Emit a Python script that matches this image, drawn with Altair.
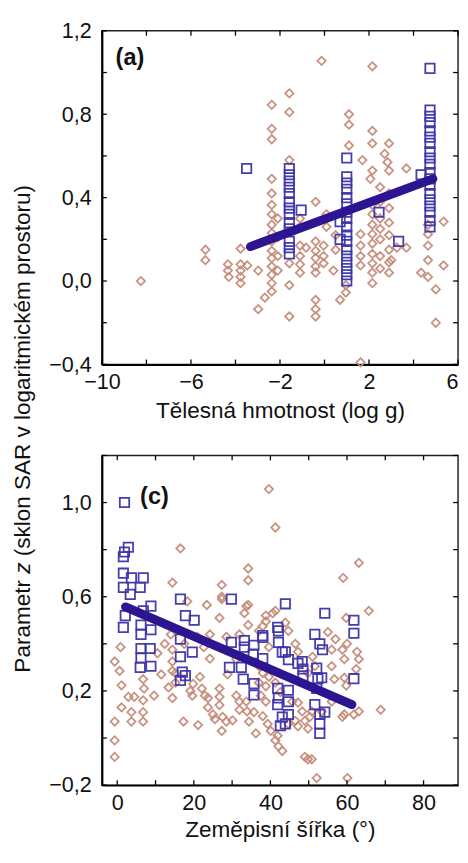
import altair as alt
import pandas as pd

# ---------------- Panel (a): body mass ----------------
a_diamonds = [
    (-8.25, 0.00), (-5.35, 0.15), (-5.35, 0.10), (-4.34, 0.08), (-4.34, 0.05), (-4.3, 0.02),
    (-3.77, 0.155), (-3.77, 0.08), (-3.77, 0.05), (-3.77, 0.02), (-3.77, -0.01), (-3.47, 0.075),
    (-2.98, 0.05), (-2.98, -0.135), (-2.68, -0.08),
    (-2.37, 0.845), (-2.37, 0.73), (-2.37, 0.68), (-2.37, 0.49), (-2.37, 0.42), (-2.37, 0.365),
    (-2.37, 0.32), (-2.37, 0.27), (-2.37, 0.23), (-2.37, 0.19), (-2.37, 0.145), (-2.37, 0.11),
    (-2.37, 0.07), (-2.37, 0.03), (-2.37, -0.01), (-2.37, -0.05),
    (-2.1, 0.30), (-2.1, 0.21), (-2.1, 0.12), (-2.1, 0.05),
    (-1.58, 0.90), (-1.58, 0.81), (-1.58, 0.58), (-1.58, 0.085), (-1.58, -0.02), (-1.58, -0.17),
    (-1.1, 0.30), (-1.1, 0.26), (-1.1, 0.17), (-1.1, 0.12), (-1.1, 0.08), (-1.1, 0.04), (-0.83, 0.16),
    (-0.4, 0.38), (-0.4, 0.19), (-0.4, 0.145), (-0.4, 0.11), (-0.4, 0.07), (-0.4, 0.04),
    (-0.4, -0.09), (-0.4, -0.135), (-0.4, -0.17), (-0.13, 1.056),
    (-0.04, 0.17), (-0.04, 0.12), (-0.04, 0.085), (0.09, 0.32), (0.09, 0.26),
    (0.5, 0.22), (0.5, 0.15), (0.4, 0.05), (0.7, -0.09), (0.96, -0.055), (0.96, -0.02),
    (1.1, 0.80), (1.1, 0.75), (1.1, 0.65),
    (1.62, -0.39), (1.62, 0.225), (1.62, 0.17), (1.62, 0.12), (1.62, 0.075), (1.7, 0.58),
    (2.15, 1.03), (2.15, 0.72), (2.15, 0.66), (2.15, 0.53), (2.06, 0.49), (2.15, 0.365),
    (2.15, 0.32), (2.15, 0.27), (2.15, 0.225), (2.15, 0.18), (2.15, 0.13), (2.15, 0.085),
    (2.15, 0.04), (2.15, -0.01),
    (2.5, 0.45), (2.5, 0.38), (2.5, 0.30), (2.5, 0.25), (2.5, 0.20), (2.5, 0.12), (2.5, 0.06),
    (2.7, 0.61), (2.83, 0.57), (2.9, 0.53), (2.9, 0.66), (2.9, 0.42), (2.9, 0.35), (2.9, 0.28),
    (2.9, 0.22), (2.9, 0.15), (2.9, 0.09), (2.9, 0.04),
    (3.25, 0.16), (3.0, 0.10), (3.68, 0.54), (3.68, 0.16), (4.34, 0.04),
    (4.65, 0.27), (4.65, 0.225), (4.65, 0.17), (4.65, 0.10), (4.65, 0.02),
    (5.0, -0.04), (5.0, -0.20), (5.35, 0.285), (5.35, 0.075),
]
a_squares = [
    (-3.5, 0.54),
    (-1.58, 0.54), (-1.58, 0.51), (-1.58, 0.48), (-1.58, 0.45), (-1.58, 0.42), (-1.58, 0.38),
    (-1.58, 0.35), (-1.58, 0.32), (-1.58, 0.28), (-1.58, 0.25), (-1.58, 0.19), (-1.58, 0.16),
    (-1.58, 0.13), (-1.05, 0.34),
    (1.0, 0.59), (1.0, 0.50), (1.0, 0.47), (1.0, 0.44), (1.0, 0.40), (1.0, 0.37), (1.0, 0.33),
    (1.0, 0.30), (1.0, 0.26), (1.0, 0.22), (1.0, 0.19), (1.0, 0.15), (1.0, 0.12), (1.0, 0.09),
    (1.0, 0.06), (1.0, 0.03), (1.0, 0.0),
    (0.7, 0.285), (0.7, 0.20), (2.45, 0.33), (3.33, 0.19), (4.34, 0.51), (4.74, 1.02),
    (4.74, 0.82), (4.74, 0.79), (4.74, 0.76), (4.74, 0.72), (4.74, 0.69), (4.74, 0.66),
    (4.74, 0.62), (4.74, 0.59), (4.74, 0.56), (4.74, 0.52), (4.74, 0.49), (4.74, 0.46),
    (4.74, 0.42), (4.74, 0.39), (4.74, 0.36), (4.74, 0.33), (4.74, 0.29), (4.74, 0.26),
]
a_fit_x = [-3.33, 4.87]
a_fit_y = [0.165, 0.49]
a_xticks = [-10, -8, -6, -4, -2, 0, 2, 4, 6]
a_yticks = [-0.4, -0.2, 0.0, 0.2, 0.4, 0.6, 0.8, 1.0, 1.2]
a_xlabels = [-10, -6, -2, 2, 6]
a_ylabels = [-0.4, 0.0, 0.4, 0.8, 1.2]

# ---------------- Panel (c): latitude ----------------
c_diamonds = [
    (39.6, 1.057), (41.3, 0.894), (16.5, 0.805), (63.1, 0.744), (59.0, 0.68), (14.4, 0.66),
    (34.2, 0.72), (34.2, 0.67), (27.3, 0.65), (23.4, 0.565), (27.3, 0.59), (34.2, 0.565),
    (33.2, 0.53), (18.3, 0.58), (26.7, 0.51), (38.8, 0.52), (40.6, 0.53), (41.3, 0.54),
    (65.7, 0.54), (59.8, 0.51), (34.2, 0.48), (38.0, 0.475), (44.7, 0.455), (38.8, 0.495),
    (43.9, 0.49), (33.7, 0.56), (27.3, 0.6),
    (0.87, 0.386), (-0.67, 0.325), (0.61, 0.285), (1.12, 0.224), (2.9, 0.175), (1.12, 0.13),
    (-0.67, 0.07), (-0.67, -0.01), (-0.67, -0.08), (4.45, 0.175), (3.7, 0.11), (3.7, 0.07),
    (6.76, 0.25), (7.0, 0.21), (6.76, 0.16), (6.76, 0.11), (6.76, 0.07), (9.6, 0.18),
    (14.4, 0.375), (14.4, 0.325), (14.4, 0.285), (13.4, 0.215), (14.4, 0.17), (15.2, 0.276),
    (15.2, 0.235), (17.3, 0.07), (19.1, 0.2), (19.6, 0.18), (19.8, 0.23), (21.6, 0.26),
    (21.1, 0.055), (22.1, 0.21), (22.9, 0.18), (23.7, 0.17), (23.7, 0.13), (25.0, 0.10),
    (25.5, 0.08), (26.7, 0.21), (26.7, 0.175), (26.7, 0.14), (27.3, 0.03), (27.5, 0.09),
    (28.5, 0.07), (28.8, 0.27), (30.1, 0.075), (31.1, 0.18), (31.9, 0.155), (31.9, 0.12),
    (33.7, 0.155), (33.9, 0.113), (34.4, 0.07), (35.7, 0.11), (36.2, 0.02),
    (12.4, 0.40), (22.6, 0.386), (24.2, 0.337), (28.5, 0.375), (31.1, 0.335), (37.0, 0.305),
    (38.0, 0.093), (39.3, 0.06), (40.1, 0.03), (41.3, -0.01), (42.1, -0.035), (43.1, -0.055),
    (41.9, 0.01), (49.0, -0.08), (49.8, -0.09), (50.8, -0.09), (52.1, -0.17), (60.1, -0.17),
    (58.8, 0.375), (59.3, 0.335), (62.6, 0.366), (63.1, 0.335), (59.3, 0.256), (59.8, 0.223),
    (62.4, 0.293), (68.8, 0.12), (63.1, 0.113), (61.8, 0.10), (59.3, 0.10), (58.8, 0.09),
    (37.5, 0.18), (38.8, 0.155), (37.0, 0.235), (38.0, 0.276), (39.6, 0.26), (38.8, 0.22),
    (41.3, 0.235), (42.6, 0.195), (45.7, 0.155), (47.2, 0.15), (48.3, 0.113), (49.0, 0.073),
    (46.5, 0.073), (44.7, 0.06), (47.2, 0.05), (49.8, 0.04), (50.3, 0.09), (50.8, 0.113),
    (53.4, 0.113), (39.6, 0.386), (46.5, 0.40), (47.2, 0.366), (51.0, 0.345), (51.6, 0.305),
    (56.0, 0.375), (56.0, 0.305), (56.7, 0.25), (49.8, 0.276), (56.0, 0.155),
    (14.0, 0.44), (17.5, 0.40), (20.9, 0.43), (24.2, 0.44), (28.5, 0.43), (31.9, 0.44),
    (37.0, 0.455), (57.0, 0.42), (55.0, 0.45), (60.0, 0.40), (10.5, 0.36), (11.5, 0.27),
]
c_squares = [
    (1.9, 1.0), (1.9, 0.79), (2.9, 0.81), (1.6, 0.77), (1.6, 0.70), (3.7, 0.68), (6.8, 0.68),
    (1.6, 0.64), (6.0, 0.64), (3.4, 0.61), (8.8, 0.56), (6.8, 0.54), (2.1, 0.52), (1.6, 0.47),
    (6.2, 0.48), (8.8, 0.46), (16.5, 0.59), (20.1, 0.50), (17.8, 0.52), (29.8, 0.59),
    (43.9, 0.57), (54.2, 0.53), (61.8, 0.50), (61.8, 0.445), (41.9, 0.47), (51.6, 0.44),
    (6.2, 0.44), (6.2, 0.38), (6.2, 0.34), (6.0, 0.30), (8.8, 0.305), (8.6, 0.38),
    (16.5, 0.42), (16.5, 0.345), (19.6, 0.365), (17.0, 0.28), (17.8, 0.265), (16.5, 0.245),
    (29.3, 0.30), (32.4, 0.30), (32.9, 0.25), (29.8, 0.406), (33.2, 0.414), (33.2, 0.386),
    (35.7, 0.394), (38.0, 0.427), (35.5, 0.357), (38.0, 0.337), (35.7, 0.231), (35.7, 0.183),
    (42.1, 0.455), (42.1, 0.406), (43.1, 0.365), (44.7, 0.333), (41.9, 0.211), (42.1, 0.17),
    (41.9, 0.142), (44.7, 0.203), (44.7, 0.154), (43.1, 0.089), (43.9, 0.06), (42.6, 0.052),
    (44.7, 0.10), (47.2, 0.317), (48.5, 0.293), (48.5, 0.264), (52.1, 0.297), (52.4, 0.252),
    (53.4, 0.256), (52.1, 0.211), (51.6, 0.142), (52.9, 0.101), (52.9, 0.06), (52.9, 0.02),
    (54.2, 0.11), (61.8, 0.252), (38.0, 0.435), (43.9, 0.366), (48.3, 0.325), (52.9, 0.40),
    (53.6, 0.375),
]
c_fit_x = [2.15, 61.3]
c_fit_y = [0.557, 0.142]
c_xticks = [0, 10, 20, 30, 40, 50, 60, 70, 80]
c_yticks = [-0.2, 0.0, 0.2, 0.4, 0.6, 0.8, 1.0, 1.2]
c_xlabels = [0, 20, 40, 60, 80]
c_ylabels = [-0.2, 0.2, 0.6, 1.0]

ytitle_parts = ["Parametr", "z", "(sklon SAR v logaritmickém prostoru)"]

DIAM = "#c68d7b"
SQ = "#3d34a8"
FIT = "#2d1592"
FONT = "Liberation Sans"
W = 364


def panel(diamonds, squares, fx, fy, xdom, ydom, xt, yt, xl, yl, xtitle, tag, tag_x, tag_y, H,
          tpad, right_label=None):
    xs = alt.Scale(domain=xdom, nice=False, zero=False)
    ys = alt.Scale(domain=ydom, nice=False, zero=False)
    la = "center"
    if right_label is not None:
        la = {"condition": {"test": f"datum.value == {right_label}", "value": "right"}, "value": "center"}
    xaxis = alt.Axis(values=xl, title=xtitle, grid=False, ticks=False, tickSize=0,
                     labelPadding=8, titlePadding=tpad, domainColor="black", domainWidth=2,
                     labelFlush=False, labelAlign=la)
    yaxis = alt.Axis(values=yl, title=None, grid=False, ticks=False, tickSize=0,
                     labelPadding=11, format=".1f", labelExpr="replace(datum.label, '.', ',')",
                     domainColor="black", domainWidth=2)
    dd = pd.DataFrame(diamonds, columns=["x", "y"])
    sd = pd.DataFrame(squares, columns=["x", "y"])
    fd = pd.DataFrame({"x": fx, "y": fy})
    xtd = pd.DataFrame({"v": xt})
    ytd = pd.DataFrame({"v": yt})
    X = lambda: alt.X("x:Q", scale=xs, axis=xaxis)
    Y = lambda: alt.Y("y:Q", scale=ys, axis=yaxis)
    dia = alt.Chart(dd).mark_point(shape="diamond", filled=False, size=72, strokeWidth=1.8,
                                   color=DIAM, opacity=0.95).encode(x=X(), y=Y())
    sq = alt.Chart(sd).mark_point(shape="square", filled=False, size=92, strokeWidth=1.8,
                                  color=SQ, opacity=0.95).encode(x=X(), y=Y())
    fit = alt.Chart(fd).mark_line(strokeWidth=9, strokeCap="round", color=FIT).encode(x=X(), y=Y())
    tb = alt.Chart(xtd).mark_rule(color="black", strokeWidth=1.3).encode(
        x=alt.X("v:Q", scale=xs, axis=xaxis), y=alt.value(H), y2=alt.value(H - 5))
    tt = alt.Chart(xtd).mark_rule(color="black", strokeWidth=1.3).encode(
        x=alt.X("v:Q", scale=xs, axis=xaxis), y=alt.value(0), y2=alt.value(5))
    tl = alt.Chart(ytd).mark_rule(color="black", strokeWidth=1.3).encode(
        y=alt.Y("v:Q", scale=ys, axis=yaxis), x=alt.value(0), x2=alt.value(5))
    tr = alt.Chart(ytd).mark_rule(color="black", strokeWidth=1.3).encode(
        y=alt.Y("v:Q", scale=ys, axis=yaxis), x=alt.value(W), x2=alt.value(W - 5))
    lab = alt.Chart(pd.DataFrame({"t": [tag]})).mark_text(
        font=FONT, fontSize=24, fontWeight="bold", align="left", baseline="middle", color="#111"
    ).encode(text="t:N", x=alt.value(tag_x), y=alt.value(tag_y))
    return alt.layer(dia, sq, fit, tb, tt, tl, tr, lab).properties(
        width=W, height=H, view=alt.ViewBackground(stroke="#222", strokeWidth=1.5))


A = panel(a_diamonds, a_squares, a_fit_x, a_fit_y, [-10, 6], [-0.4, 1.2], a_xticks, a_yticks,
          a_xlabels, a_ylabels, "Tělesná hmotnost (log g)", "(a)", 14, 28, 341, 7, right_label=6)
C = panel(c_diamonds, c_squares, c_fit_x, c_fit_y, [-4, 89], [-0.2, 1.2], c_xticks, c_yticks,
          c_xlabels, c_ylabels, "Zeměpisní šířka (°)", "(c)", 39, 43, 337, 6)

# y title split to get italic "z"
fs = 23
y0 = 656
p1 = alt.Chart(pd.DataFrame({"t": [ytitle_parts[0]]})).mark_text(
    font=FONT, fontSize=fs, angle=270, align="left", baseline="alphabetic", color="#111"
).encode(text="t:N", x=alt.value(22), y=alt.value(y0))
p2 = alt.Chart(pd.DataFrame({"t": [ytitle_parts[1]]})).mark_text(
    font=FONT, fontSize=fs, fontStyle="italic", angle=270, align="left", baseline="alphabetic", color="#111"
).encode(text="t:N", x=alt.value(22), y=alt.value(y0 - 4.39 * fs))
p3 = alt.Chart(pd.DataFrame({"t": [ytitle_parts[2]]})).mark_text(
    font=FONT, fontSize=fs, angle=270, align="left", baseline="alphabetic", color="#111"
).encode(text="t:N", x=alt.value(22), y=alt.value(y0 - 4.39 * fs - 0.5 * fs - 0.278 * fs))
T = alt.layer(p1, p2, p3).properties(width=40, height=780, view=alt.ViewBackground(stroke=None))

V = alt.vconcat(A, C, spacing=31)
chart = alt.hconcat(T, V, spacing=0).properties(
    padding={"left": 0, "top": 2, "right": 0, "bottom": 0}
).configure_axis(
    labelFont=FONT, labelFontSize=22, labelColor="#111",
    titleFont=FONT, titleFontSize=23, titleFontWeight="normal", titleColor="#111",
).configure_view(stroke=None)

chart.save("out.html", embed_options={"renderer": "svg", "actions": False})
